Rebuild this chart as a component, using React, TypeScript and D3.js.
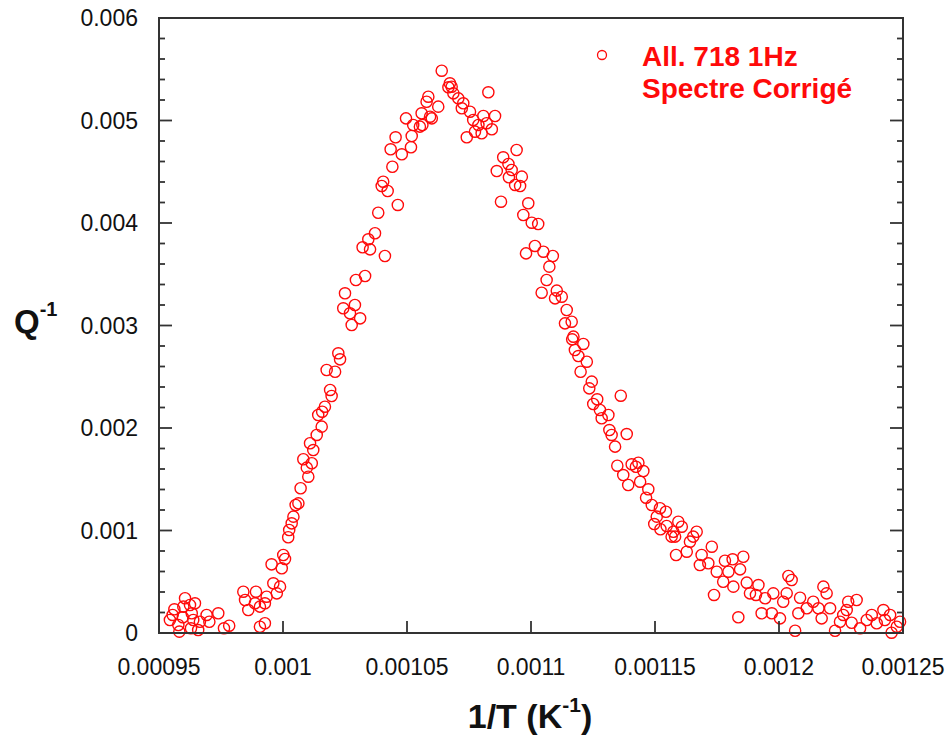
import React from "react";
import * as d3 from "d3";

// 1/T (K^-1)
const invT = [
  0.0009562, 0.0009555, 0.0009544, 0.0009578, 0.0009582, 0.0009605, 0.0009598, 0.0009596, 0.0009625, 0.0009632,
  0.0009645, 0.0009638, 0.0009629, 0.0009658, 0.0009665, 0.0009692, 0.0009703, 0.0009739, 0.0009762, 0.0009783,
  0.0009840, 0.0009891, 0.0009847, 0.0009860, 0.0009887, 0.0009907, 0.0009927, 0.0009934, 0.0009907, 0.0009927,
  0.0009961, 0.0009988, 0.0009975, 0.0009954, 0.0009995, 0.0010008, 0.0010001, 0.0010021, 0.0010025, 0.0010035,
  0.0010042, 0.0010051, 0.0010062, 0.0010071, 0.0010102, 0.0010096, 0.0010116, 0.0010082, 0.0010122, 0.0010109,
  0.0010136, 0.0010156, 0.0010142, 0.0010158, 0.0010169, 0.0010196, 0.0010190, 0.0010176, 0.0010210, 0.0010230,
  0.0010223, 0.0010277, 0.0010311, 0.0010270, 0.0010243, 0.0010290, 0.0010250, 0.0010294, 0.0010331, 0.0010321,
  0.0010351, 0.0010344, 0.0010371, 0.0010411, 0.0010384, 0.0010463, 0.0010422, 0.0010398, 0.0010404, 0.0010441,
  0.0010434, 0.0010454, 0.0010479, 0.0010516, 0.0010519, 0.0010496, 0.0010525, 0.0010552, 0.0010559, 0.0010593,
  0.0010579, 0.0010586, 0.0010626, 0.0010640, 0.0010667, 0.0010562, 0.0010600, 0.0010673, 0.0010680, 0.0010687,
  0.0010707, 0.0010727, 0.0010721, 0.0010754, 0.0010767, 0.0010788, 0.0010808, 0.0010828, 0.0010855, 0.0010821,
  0.0010842, 0.0010801, 0.0010774, 0.0010741, 0.0010942, 0.0010888, 0.0010909, 0.0010862, 0.0010922, 0.0010963,
  0.0010911, 0.0010936, 0.0010956, 0.0010879, 0.0010989, 0.0010969, 0.0011003, 0.0011029, 0.0011016, 0.0010980,
  0.0011050, 0.0011088, 0.0011074, 0.0011063, 0.0011043, 0.0011104, 0.0011097, 0.0011124, 0.0011144, 0.0011137,
  0.0011164, 0.0011171, 0.0011166, 0.0011211, 0.0011177, 0.0011191, 0.0011225, 0.0011200, 0.0011245, 0.0011235,
  0.0011362, 0.0011267, 0.0011251, 0.0011278, 0.0011312, 0.0011285, 0.0011316, 0.0011325, 0.0011386, 0.0011339,
  0.0011348, 0.0011406, 0.0011433, 0.0011423, 0.0011453, 0.0011372, 0.0011440, 0.0011392, 0.0011473, 0.0011464,
  0.0011487, 0.0011520, 0.0011544, 0.0011507, 0.0011497, 0.0011522, 0.0011547, 0.0011594, 0.0011608, 0.0011574,
  0.0011567, 0.0011581, 0.0011668, 0.0011654, 0.0011641, 0.0011628, 0.0011585, 0.0011729, 0.0011688, 0.0011681,
  0.0011715, 0.0011782, 0.0011813, 0.0011856, 0.0011749, 0.0011796, 0.0011843, 0.0011775, 0.0011816, 0.0011738,
  0.0011836, 0.0011870, 0.0011883, 0.0011917, 0.0011907, 0.0011944, 0.0011930, 0.0011977, 0.0011971, 0.0012004,
  0.0012017, 0.0012031, 0.0012038, 0.0012051, 0.0012065, 0.0012085, 0.0012078, 0.0012112, 0.0012138, 0.0012159,
  0.0012179, 0.0012192, 0.0012172, 0.0012206, 0.0012226, 0.0012246, 0.0012259, 0.0012273, 0.0012279, 0.0012313,
  0.0012293, 0.0012327, 0.0012354, 0.0012374, 0.0012394, 0.0012421, 0.0012427, 0.0012448, 0.0012454, 0.0012475,
  0.0012488,
];

// Q^-1
const qInv = [
  0.000231, 0.000176, 0.000127, 0.000078, 0.000013, 0.000339, 0.000257, 0.000153, 0.000273, 0.000192,
  0.000290, 0.000127, 0.000046, 0.000029, 0.000110, 0.000176, 0.000110, 0.000192, 0.000046, 0.000071,
  0.000403, 0.000403, 0.000322, 0.000224, 0.000290, 0.000257, 0.000290, 0.000354, 0.000061, 0.000095,
  0.000485, 0.000452, 0.000387, 0.000670, 0.000631, 0.000722, 0.000761, 0.000934, 0.001005, 0.001070,
  0.001135, 0.001249, 0.001265, 0.001412, 0.001525, 0.001613, 0.001656, 0.001695, 0.001785, 0.001851,
  0.001932, 0.002013, 0.002127, 0.002159, 0.002208, 0.002312, 0.002371, 0.002566, 0.002549, 0.002670,
  0.002729, 0.003005, 0.003070, 0.003119, 0.003168, 0.003200, 0.003314, 0.003444, 0.003483, 0.003763,
  0.003743, 0.003841, 0.003900, 0.003678, 0.004100, 0.004176, 0.004312, 0.004361, 0.004403, 0.004549,
  0.004719, 0.004836, 0.004670, 0.004739, 0.004849, 0.005021, 0.004956, 0.004940, 0.005070, 0.005037,
  0.005183, 0.005232, 0.005135, 0.005486, 0.005324, 0.004956, 0.005021, 0.005363, 0.005330, 0.005265,
  0.005216, 0.005168, 0.005119, 0.005086, 0.005005, 0.004956, 0.005044, 0.005275, 0.005044, 0.004973,
  0.004914, 0.004875, 0.004891, 0.004836, 0.004712, 0.004641, 0.004576, 0.004507, 0.004517, 0.004452,
  0.004446, 0.004371, 0.004361, 0.004208, 0.004192, 0.004078, 0.004003, 0.003990, 0.003776, 0.003704,
  0.003720, 0.003678, 0.003574, 0.003444, 0.003320, 0.003340, 0.003265, 0.003281, 0.003151, 0.003021,
  0.003037, 0.002891, 0.002865, 0.002820, 0.002761, 0.002702, 0.002647, 0.002549, 0.002452, 0.002387,
  0.002315, 0.002280, 0.002234, 0.002176, 0.002127, 0.002095, 0.001980, 0.001932, 0.001941, 0.001818,
  0.001632, 0.001646, 0.001661, 0.001622, 0.001580, 0.001541, 0.001476, 0.001444, 0.001402, 0.001320,
  0.001249, 0.001217, 0.001183, 0.001135, 0.001063, 0.001012, 0.001044, 0.001086, 0.001037, 0.000988,
  0.000940, 0.000940, 0.000988, 0.000940, 0.000891, 0.000793, 0.000761, 0.000842, 0.000761, 0.000663,
  0.000680, 0.000705, 0.000719, 0.000744, 0.000598, 0.000598, 0.000621, 0.000500, 0.000452, 0.000371,
  0.000153, 0.000491, 0.000387, 0.000468, 0.000371, 0.000339, 0.000192, 0.000387, 0.000192, 0.000143,
  0.000305, 0.000387, 0.000556, 0.000517, 0.000022, 0.000344, 0.000192, 0.000241, 0.000305, 0.000241,
  0.000452, 0.000387, 0.000143, 0.000241, 0.000022, 0.000110, 0.000176, 0.000224, 0.000305, 0.000322,
  0.000100, 0.000046, 0.000127, 0.000176, 0.000095, 0.000224, 0.000127, 0.000176, 0.000003, 0.000061,
  0.000110,
];

const xTicks = [0.00095, 0.001, 0.00105, 0.0011, 0.00115, 0.0012, 0.00125];
const xTickLabels = ["0.00095", "0.001", "0.00105", "0.0011", "0.00115", "0.0012", "0.00125"];
const yTicks = [0, 0.001, 0.002, 0.003, 0.004, 0.005, 0.006];
const yTickLabels = ["0", "0.001", "0.002", "0.003", "0.004", "0.005", "0.006"];
const yMinorTicks = d3.range(0, 31).map((i) => i * 0.0002).filter((v) => Math.abs(v / 0.001 - Math.round(v / 0.001)) > 1e-6);

const legendLines = ["All. 718 1Hz", "Spectre Corrigé"];

const W = 951;
const H = 742;
const FONT = "'Liberation Sans', Arial, Helvetica, sans-serif";
const RED = "#ff0a0a";
const AXIS = "#333";

export default function App() {
  const x = d3.scaleLinear().domain([0.00095, 0.00125]).range([159, 903]);
  const y = d3.scaleLinear().domain([0, 0.006]).range([633, 18]);
  const [x0, x1] = x.range();
  const [y0, y1] = y.range();
  const points = invT.map((v, i) => [v, qInv[i]] as [number, number]);

  return (
    <svg
      width={W}
      height={H}
      style={{ position: "absolute", left: 0, top: 0, background: "#fff" }}
      fontFamily={FONT}
    >
      <rect x={0} y={0} width={W} height={H} fill="#fff" />
      {/* data points */}
      <g fill="none" stroke={RED} strokeWidth={1.4}>
        {points.map((p, i) => (
          <circle key={i} cx={x(p[0])} cy={y(p[1])} r={5.6} />
        ))}
      </g>
      {/* frame */}
      <rect x={x0} y={y1} width={x1 - x0} height={y0 - y1} fill="none" stroke={AXIS} strokeWidth={2} />
      {/* ticks */}
      <g stroke={AXIS} strokeWidth={1.8}>
        {xTicks.map((t, i) => (
          <line key={"xt" + i} x1={x(t)} x2={x(t)} y1={y0} y2={y0 - 12} />
        ))}
        {yTicks.map((t, i) => (
          <line key={"ytl" + i} x1={x0} x2={x0 + 13} y1={y(t)} y2={y(t)} />
        ))}
        {yTicks.map((t, i) => (
          <line key={"ytr" + i} x1={x1} x2={x1 - 13} y1={y(t)} y2={y(t)} />
        ))}
        {yMinorTicks.map((t, i) => (
          <line key={"ymr" + i} x1={x1} x2={x1 - 6} y1={y(t)} y2={y(t)} />
        ))}
        {yMinorTicks.map((t, i) => (
          <line key={"yml" + i} x1={x0} x2={x0 + 6} y1={y(t)} y2={y(t)} />
        ))}
      </g>
      {/* tick labels */}
      <g fontSize={23} fill="#111">
        {xTicks.map((t, i) => (
          <text key={"xl" + i} x={x(t)} y={675} textAnchor="middle">
            {xTickLabels[i]}
          </text>
        ))}
        {yTicks.map((t, i) => (
          <text key={"yl" + i} x={138} y={y(t) + 8} textAnchor="end">
            {yTickLabels[i]}
          </text>
        ))}
      </g>
      {/* axis titles */}
      <text x={14} y={333} fontSize={33} fontWeight="bold" fill="#111">
        Q
        <tspan fontSize={20} dy={-17}>-1</tspan>
      </text>
      <text x={530} y={728} fontSize={34} fontWeight="bold" fill="#111" textAnchor="middle">
        1/T (K
        <tspan fontSize={21} dy={-16}>-1</tspan>
        <tspan dy={16}>)</tspan>
      </text>
      {/* legend */}
      <circle cx={602} cy={55} r={4.5} fill="none" stroke={RED} strokeWidth={1.3} />
      <g fontSize={28} fontWeight="bold" fill={RED}>
        {legendLines.map((s, i) => (
          <text key={"lg" + i} x={642} y={66 + i * 32}>
            {s}
          </text>
        ))}
      </g>
    </svg>
  );
}
